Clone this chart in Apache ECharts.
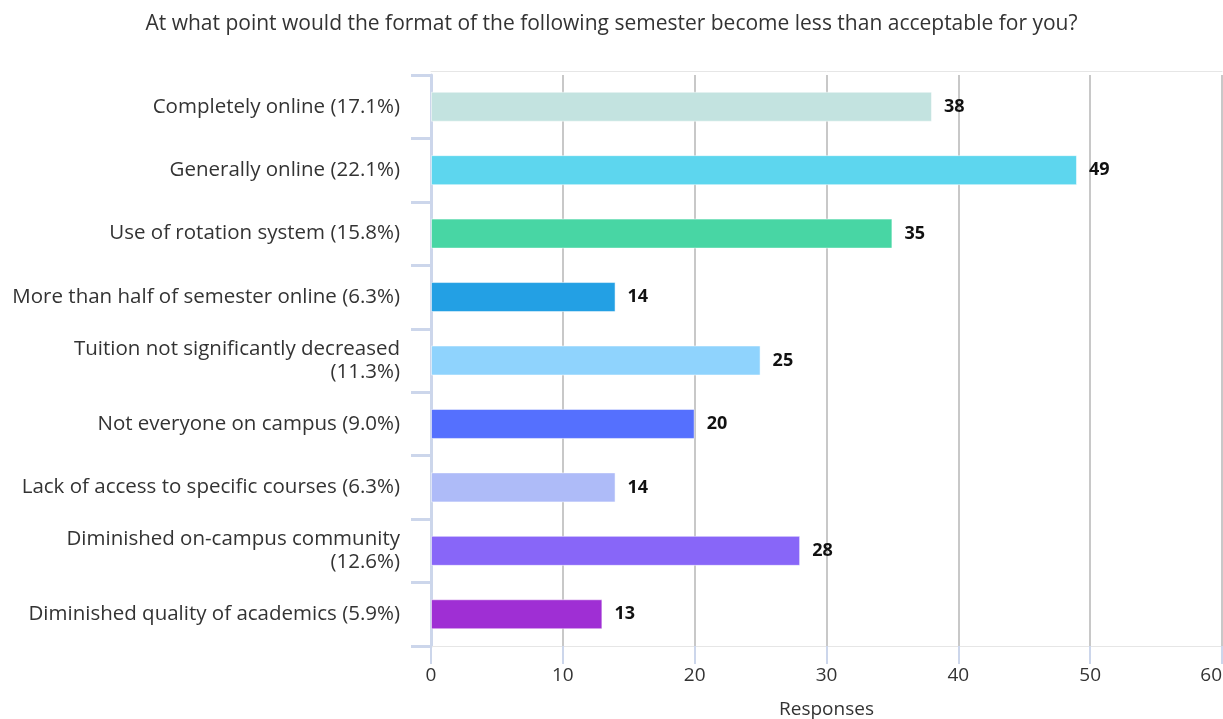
<!DOCTYPE html>
<html>
<head>
<meta charset="utf-8">
<script src="https://cdn.jsdelivr.net/npm/echarts@6/dist/echarts.min.js"></script>
<style>
  html, body { margin: 0; padding: 0; background: #fff; overflow: hidden; }
  #chart { width: 1223px; height: 719px; }
</style>
</head>
<body>
<div id="chart"></div>
<script>
/* Semester format survey - horizontal bar chart */
const TITLE = 'At what point would the format of the following semester become less than acceptable for you?';
const categories = [
  'Completely online (17.1%)',
  'Generally online (22.1%)',
  'Use of rotation system (15.8%)',
  'More than half of semester online (6.3%)',
  'Tuition not significantly decreased\n(11.3%)',
  'Not everyone on campus (9.0%)',
  'Lack of access to specific courses (6.3%)',
  'Diminished on-campus community\n(12.6%)',
  'Diminished quality of academics (5.9%)'
];
const responses = [38, 49, 35, 14, 25, 20, 14, 28, 13];
const colors = ['#c3e3e0', '#5dd6ee', '#48d6a4', '#23a0e4', '#8fd3fd', '#5570fe', '#aebbf8', '#8866f8', '#9f2fd4'];
const xTicks = [0, 10, 20, 30, 40, 50, 60];

const FONT = '"Open Sans", "Noto Sans", sans-serif';
const chart = echarts.init(document.getElementById('chart'));

chart.setOption({
  animation: false,
  title: {
    text: TITLE, left: 'center', top: 9,
    textStyle: { fontFamily: FONT, fontSize: 21, fontWeight: 'normal', color: '#333' }
  },
  grid: { left: 431, right: 1, top: 75, bottom: 73, containLabel: false, outerBoundsMode: 'none' },
  xAxis: [{
    type: 'value', min: xTicks[0], max: xTicks[xTicks.length - 1], interval: 10,
    name: 'Responses', nameLocation: 'middle', nameGap: 54,
    nameTextStyle: { fontFamily: FONT, fontSize: 19, color: '#333' },
    axisLine: { show: true, lineStyle: { color: '#e6e6e6', width: 1 } },
    axisTick: { show: true, length: 18, lineStyle: { color: '#ccd6eb', width: 2 } },
    axisLabel: { fontFamily: FONT, fontSize: 19, color: '#333', margin: 20, alignMaxLabel: 'right' },
    splitLine: { show: true, lineStyle: { color: '#c8c8c8', width: 2 } }
  }, {
    type: 'value', position: 'top', offset: 4, min: xTicks[0], max: xTicks[xTicks.length - 1], interval: 10,
    axisLine: { show: true, lineStyle: { color: '#e6e6e6', width: 1 } },
    axisTick: { show: false }, axisLabel: { show: false }, splitLine: { show: false }
  }],
  yAxis: {
    type: 'category', inverse: true, data: categories,
    axisLine: { show: true, lineStyle: { color: '#ccd6eb', width: 3 } },
    axisTick: { show: true, length: 20, lineStyle: { color: '#ccd6eb', width: 3 } },
    axisLabel: { fontFamily: FONT, fontSize: 20.5, color: '#333', margin: 31, lineHeight: 23 },
    splitLine: { show: false }
  },
  series: [{
    type: 'bar',
    data: responses.map((v, i) => ({ value: v, itemStyle: { color: colors[i] } })),
    barWidth: 30,
    itemStyle: { borderColor: 'rgba(255,255,255,0.5)', borderWidth: 1 },
    label: {
      show: true, position: 'right', distance: 12,
      fontFamily: FONT, fontSize: 18, fontWeight: 'bold', color: '#111'
    }
  }]
});
</script>
</body>
</html>
